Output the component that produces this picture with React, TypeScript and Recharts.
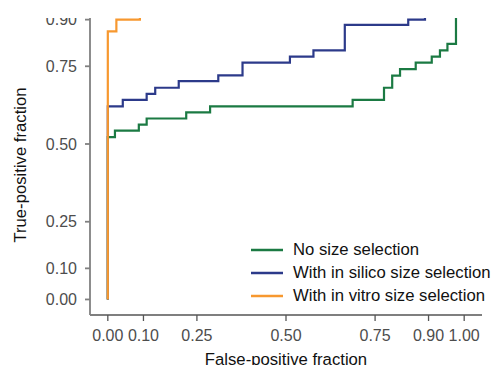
import React from "react";
import { LineChart, Line, XAxis, YAxis, Legend, Customized } from "recharts";

// ROC curves (x = false-positive fraction, y = true-positive fraction)
const noSelFpr = [0, 0, 0.02, 0.087, 0.109, 0.22, 0.287, 0.687, 0.775, 0.798, 0.82, 0.864, 0.909, 0.932, 0.953, 0.977, 1];
const noSelTpr = [0, 0.522, 0.543, 0.562, 0.582, 0.602, 0.621, 0.642, 0.681, 0.72, 0.741, 0.762, 0.781, 0.801, 0.822, 1, 1];

const silicoFpr = [0, 0, 0.042, 0.109, 0.133, 0.199, 0.31, 0.378, 0.511, 0.577, 0.665, 0.843, 0.89, 1];
const silicoTpr = [0, 0.621, 0.642, 0.661, 0.681, 0.702, 0.721, 0.762, 0.781, 0.801, 0.883, 0.9, 1, 1];

const vitroFpr = [0, 0, 0.024, 0.09, 1];
const vitroTpr = [0, 0.862, 0.9, 1, 1];

const xTicks = [0, 0.1, 0.25, 0.5, 0.75, 0.9, 1];
const yTicks = [0, 0.1, 0.25, 0.5, 0.75, 0.9];

const seriesNames = ["No size selection", "With in silico size selection", "With in vitro size selection"];
const seriesColors = ["#1b7a43", "#2c3a8a", "#f7982f"];

const toRows = (fpr: number[], tpr: number[]) => fpr.map((f, i) => ({ fpr: f, tpr: tpr[i] }));

const series = [
  toRows(noSelFpr, noSelTpr),
  toRows(silicoFpr, silicoTpr),
  toRows(vitroFpr, vitroTpr),
];

const FONT = "'Liberation Sans', Arial, Helvetica, sans-serif";
const tickStyle = { fill: "#4d4d4d", fontSize: 16, fontFamily: FONT };

const renderLegend = () => (
  <div style={{ fontFamily: FONT, fontSize: 16.7, color: "#111" }}>
    {seriesNames.map((name, i) => (
      <div key={name} style={{ display: "flex", alignItems: "center", height: 22.7 }}>
        <svg width={32} height={4} style={{ marginRight: 10 }}>
          <line x1={0} y1={2} x2={32} y2={2} stroke={seriesColors[i]} strokeWidth={2.5} />
        </svg>
        <span style={{ whiteSpace: "nowrap" }}>{name}</span>
      </div>
    ))}
  </div>
);

const Titles = () => (
  <g fontFamily={FONT} fontSize={16.7} fill="#111">
    <text x={286} y={397} textAnchor="middle">
      False-positive fraction
    </text>
    <text x={26} y={197} textAnchor="middle" transform="rotate(-90 26 197)">
      True-positive fraction
    </text>
  </g>
);

export default function App() {
  return (
    <div
      style={{
        position: "absolute",
        top: 18,
        left: 0,
        width: 491,
        height: 347,
        overflow: "hidden",
        background: "#fff",
      }}
    >
      <div style={{ position: "absolute", top: -50, left: 0 }}>
        <LineChart width={491} height={397} margin={{ top: 5, right: 9, bottom: 0, left: 0 }}>
          <XAxis
            dataKey="fpr"
            type="number"
            domain={[-0.05, 1.05]}
            ticks={xTicks}
            interval={0}
            allowDataOverflow
            tickFormatter={(v: number) => v.toFixed(2)}
            tick={tickStyle}
            stroke="#555"
            strokeWidth={1.3}
            tickSize={6}
            tickMargin={9}
            height={50}
          />
          <YAxis
            type="number"
            domain={[-0.05, 1.05]}
            ticks={yTicks}
            interval={0}
            allowDataOverflow
            tickFormatter={(v: number) => v.toFixed(2)}
            tick={tickStyle}
            stroke="#808080"
            strokeWidth={1.8}
            tickSize={5}
            tickMargin={8}
            width={90}
          />
          {series.map((rows, i) => (
            <Line
              key={seriesNames[i]}
              data={rows}
              dataKey="tpr"
              name={seriesNames[i]}
              type="stepAfter"
              stroke={seriesColors[i]}
              strokeWidth={2.2}
              dot={false}
              activeDot={false}
              isAnimationActive={false}
            />
          ))}
          <Legend
            layout="vertical"
            align="center"
            verticalAlign="middle"
            content={renderLegend}
            wrapperStyle={{ position: "absolute", left: 251, top: 271, width: 240 }}
          />
          <Customized component={Titles} />
        </LineChart>
      </div>
    </div>
  );
}
